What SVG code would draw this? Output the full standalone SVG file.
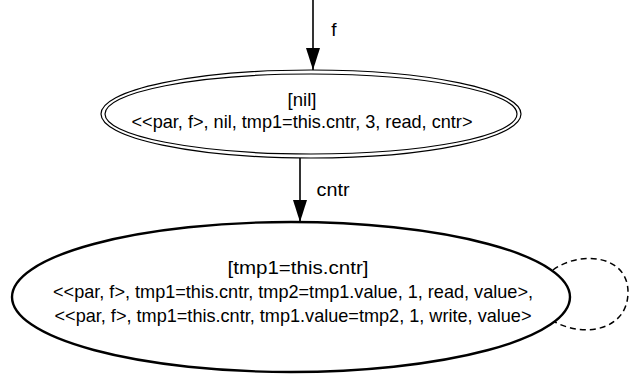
<svg xmlns="http://www.w3.org/2000/svg" width="630" height="374" viewBox="0 0 630 374">
<style>
text{font-family:"Liberation Sans",Arial,sans-serif;font-size:19px;fill:#000;text-anchor:middle}
.node{fill:none;stroke:#000;stroke-width:1.2}
.bold{fill:none;stroke:#000;stroke-width:2.4}
.edge{fill:none;stroke:#000;stroke-width:1.6}
.dash{fill:none;stroke:#000;stroke-width:1.5;stroke-dasharray:6,4}
</style>
<defs>
<marker id="arr" markerWidth="22" markerHeight="14" refX="22" refY="7" orient="auto" markerUnits="userSpaceOnUse">
<path d="M0,0 L22,7 L0,14 z" fill="#000"/>
</marker>
</defs>
<rect width="630" height="374" fill="#fff"/>
<g id="connectors">
<line class="edge" x1="313" y1="0" x2="313" y2="70" marker-end="url(#arr)"/>
<text x="334" y="36">f</text>
<line class="edge" x1="300" y1="158" x2="300" y2="222" marker-end="url(#arr)"/>
<text x="333" y="196" textLength="33" lengthAdjust="spacingAndGlyphs">cntr</text>
<path class="dash" d="M553,270 C580,250 628,255 628,292 C628,330 585,338 555,322"/>
</g>
<g id="node-nil">
<ellipse class="node" cx="311" cy="114" rx="210" ry="44"/>
<ellipse class="node" cx="311" cy="114" rx="206" ry="40"/>
<text x="302" y="106" textLength="29" lengthAdjust="spacingAndGlyphs">[nil]</text>
<text x="302" y="128" textLength="341" lengthAdjust="spacingAndGlyphs">&lt;&lt;par, f&gt;, nil, tmp1=this.cntr, 3, read, cntr&gt;</text>
</g>
<g id="node-tmp1">
<ellipse class="bold" cx="291" cy="297" rx="279" ry="75"/>
<text x="298" y="274" textLength="141" lengthAdjust="spacingAndGlyphs">[tmp1=this.cntr]</text>
<text x="293" y="298" textLength="480" lengthAdjust="spacingAndGlyphs">&lt;&lt;par, f&gt;, tmp1=this.cntr, tmp2=tmp1.value, 1, read, value&gt;,</text>
<text x="293" y="322" textLength="477" lengthAdjust="spacingAndGlyphs">&lt;&lt;par, f&gt;, tmp1=this.cntr, tmp1.value=tmp2, 1, write, value&gt;</text>
</g>
</svg>
